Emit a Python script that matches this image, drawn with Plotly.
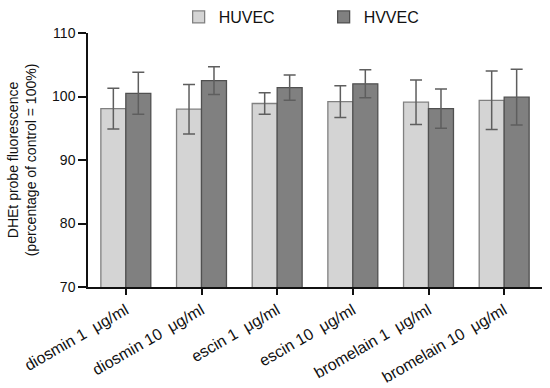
import plotly.graph_objects as go

categories = ["diosmin 1  μg/ml", "diosmin 10  μg/ml", "escin 1  μg/ml",
              "escin 10  μg/ml", "bromelain 1  μg/ml", "bromelain 10  μg/ml"]
huvec = [98.1, 98.0, 98.9, 99.2, 99.1, 99.4]
huvec_err = [3.2, 3.9, 1.7, 2.5, 3.5, 4.6]
hvvec = [100.5, 102.5, 101.4, 102.0, 98.1, 99.9]
hvvec_err = [3.3, 2.2, 2.0, 2.2, 3.1, 4.4]

fig = go.Figure()
fig.add_trace(go.Bar(
    x=categories, y=huvec, name="HUVEC",
    marker=dict(color="#d4d4d4", line=dict(color="#808080", width=1.3)),
    error_y=dict(type="data", array=huvec_err, visible=True,
                 color="#5e5e5e", thickness=1.5, width=6),
))
fig.add_trace(go.Bar(
    x=categories, y=hvvec, name="HVVEC",
    marker=dict(color="#808080", line=dict(color="#505050", width=1.3)),
    error_y=dict(type="data", array=hvvec_err, visible=True,
                 color="#5e5e5e", thickness=1.5, width=6),
))

fig.update_layout(
    width=550, height=388,
    margin=dict(l=88, r=8, t=33, b=101, autoexpand=False),
    paper_bgcolor="white", plot_bgcolor="white",
    barmode="group", bargap=0.34, bargroupgap=0,
    font=dict(family="Liberation Sans, Arial, sans-serif", size=14, color="#111111"),
    legend=dict(orientation="h", x=0.519, xanchor="center", y=1.0, yanchor="top",
                yref="container", font=dict(size=16), entrywidth=100,
                entrywidthmode="pixels", bgcolor="rgba(0,0,0,0)"),
    showlegend=True,
)
fig.update_xaxes(
    showline=True, linecolor="#111111", linewidth=1.5,
    ticks="outside", ticklen=6, tickwidth=1.5, tickcolor="#111111",
    tickangle=-30, tickfont=dict(size=16), showgrid=False, automargin=False,
)
fig.update_yaxes(
    range=[70, 110], dtick=10, tick0=70,
    showline=True, linecolor="#111111", linewidth=1.5,
    ticks="outside", ticklen=8, tickwidth=1.5, tickcolor="#111111",
    tickfont=dict(size=14), showgrid=False, zeroline=False, automargin=False,
    title=dict(text="DHEt probe fluorescence<br>(percentage of control = 100%)",
               font=dict(size=14), standoff=12),
)

fig.write_html("out.html", config={"displayModeBar": False},
               post_script="document.body.style.margin='0';")
